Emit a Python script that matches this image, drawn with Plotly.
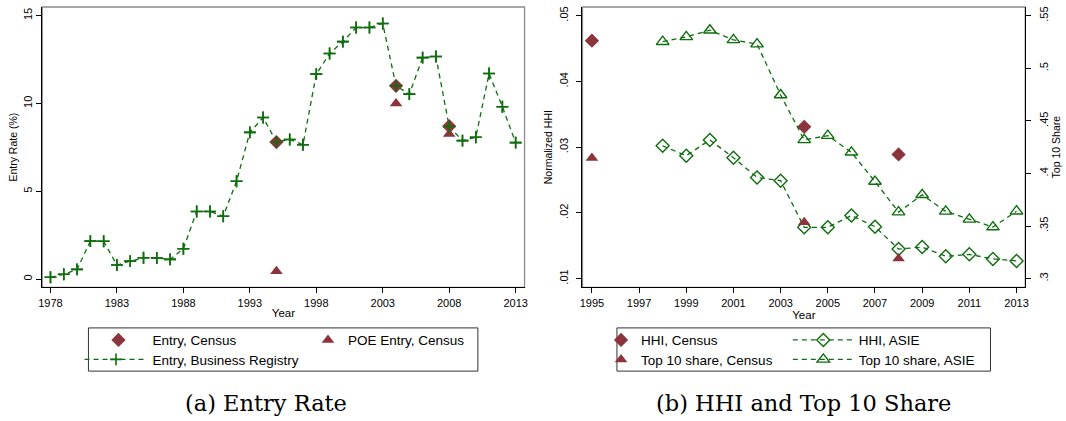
import plotly.graph_objects as go

# ---------------- data ----------------
years_br = list(range(1978, 2014))
entry_br = [0.1, 0.27, 0.55, 2.16, 2.15, 0.8, 1.02, 1.21, 1.2, 1.12, 1.73, 3.85, 3.85, 3.58,
            5.57, 8.35, 9.2, 7.8, 7.95, 7.65, 11.67, 12.84, 13.52, 14.32, 14.32, 14.55,
            11.0, 10.53, 12.61, 12.67, 8.68, 7.88, 8.07, 11.7, 9.81, 7.77]
census_years = [1995, 2004, 2008]
entry_census = [7.8, 11.0, 8.7]
poe_entry_census = [0.45, 10.0, 8.26]

asie_years = list(range(1998, 2014))
hhi_asie = [0.0302, 0.0287, 0.0311, 0.0284, 0.0254, 0.0249, 0.0178, 0.0178, 0.0196,
            0.0179, 0.0145, 0.0148, 0.0134, 0.0137, 0.0130, 0.0127]
top10_asie = [0.5253, 0.5299, 0.5362, 0.5270, 0.5230, 0.4746, 0.4319, 0.4360, 0.4201,
              0.3923, 0.3632, 0.3797, 0.3639, 0.3563, 0.3490, 0.3641]
census_years_b = [1995, 2004, 2008]
hhi_census = [0.0462, 0.0331, 0.0289]
top10_census = [0.4146, 0.3537, 0.3190]

left_xticks = [1978, 1983, 1988, 1993, 1998, 2003, 2008, 2013]
left_yticks = [0, 5, 10, 15]
right_xticks = list(range(1995, 2014, 2))
hhi_ticks = [0.01, 0.02, 0.03, 0.04, 0.05]
hhi_ticklabels = [".01", ".02", ".03", ".04", ".05"]
top10_ticks = [0.3, 0.35, 0.4, 0.45, 0.5, 0.55]
top10_ticklabels = [".3", ".35", ".4", ".45", ".5", ".55"]

# ---------------- style ----------------
W, H = 1066, 421
MAROON = "#8c343c"
GREEN = "#0e6e0e"
FONT = "Liberation Sans, Arial, sans-serif"
DASH = "5px,4px"

def px(x):
    return x / W

def py(y):
    return 1 - y / H

fig = go.Figure()

cross_marker = dict(symbol="cross-thin", size=8.5, line=dict(color=GREEN, width=1.6))

# ---- left panel ----
fig.add_trace(go.Scatter(x=years_br, y=entry_br, mode="lines+markers",
                         name="Entry, Business Registry",
                         line=dict(color=GREEN, width=1.3, dash=DASH),
                         marker=cross_marker,
                         xaxis="x", yaxis="y", legend="legend3"))
fig.add_trace(go.Scatter(x=census_years, y=entry_census, mode="markers", name="Entry, Census",
                         marker=dict(symbol="diamond", size=11, color=MAROON),
                         xaxis="x", yaxis="y", legend="legend"))
fig.add_trace(go.Scatter(x=census_years, y=poe_entry_census, mode="markers", name="POE Entry, Census",
                         marker=dict(symbol="triangle-up", size=11, color=MAROON),
                         xaxis="x", yaxis="y", legend="legend2"))
# redraw crosses on top of census diamonds
fig.add_trace(go.Scatter(x=years_br, y=entry_br, mode="markers", showlegend=False,
                         marker=cross_marker, xaxis="x", yaxis="y", hoverinfo="skip"))

# ---- right panel ----
fig.add_trace(go.Scatter(x=census_years_b, y=hhi_census, mode="markers", name="HHI, Census",
                         marker=dict(symbol="diamond", size=11, color=MAROON),
                         xaxis="x2", yaxis="y3", legend="legend4"))
fig.add_trace(go.Scatter(x=census_years_b, y=top10_census, mode="markers", name="Top 10 share, Census",
                         marker=dict(symbol="triangle-up", size=11, color=MAROON),
                         xaxis="x2", yaxis="y4", legend="legend5"))
fig.add_trace(go.Scatter(x=asie_years, y=hhi_asie, mode="lines+markers", name="HHI, ASIE",
                         line=dict(color=GREEN, width=1.3, dash=DASH),
                         marker=dict(symbol="diamond-open", size=10, color=GREEN, line=dict(width=1.4)),
                         xaxis="x2", yaxis="y3", legend="legend6"))
fig.add_trace(go.Scatter(x=asie_years, y=top10_asie, mode="lines+markers", name="Top 10 share, ASIE",
                         line=dict(color=GREEN, width=1.3, dash=DASH),
                         marker=dict(symbol="triangle-up-open", size=11, color=GREEN, line=dict(width=1.4)),
                         xaxis="x2", yaxis="y4", legend="legend7"))

axis_common = dict(showgrid=False, zeroline=False, showline=True, linecolor="black", linewidth=1.3,
                   ticks="outside", ticklen=5, tickcolor="black", tickwidth=1.2,
                   tickfont=dict(family=FONT, size=11, color="black"))

ytop, ybot = 6, 287
ydom = [py(ybot), py(ytop)]

fig.update_layout(
    width=W, height=H, margin=dict(l=0, r=0, t=0, b=0),
    paper_bgcolor="white", plot_bgcolor="white", showlegend=True,
    font=dict(family=FONT, color="black"),
    xaxis=dict(domain=[px(38.5), px(524)], range=[1977.38, 2013.67], tickvals=left_xticks,
               anchor="y", title=dict(text="Year", font=dict(size=11.5), standoff=1), **axis_common),
    yaxis=dict(domain=ydom, range=[-0.47, 15.49], tickvals=left_yticks, tickangle=-90,
               ticklabelstandoff=0,
               anchor="x", title=dict(text="Entry Rate (%)", font=dict(size=10.5), standoff=2), **axis_common),
    xaxis2=dict(domain=[px(582.3), px(1028)], range=[1994.6, 2013.37], tickvals=right_xticks,
                anchor="y3", title=dict(text="Year", font=dict(size=11.5), standoff=1), **axis_common),
    yaxis3=dict(domain=ydom, range=[0.00868, 0.05132], tickvals=hhi_ticks, ticktext=hhi_ticklabels,
                tickangle=-90, anchor="x2", ticklabelstandoff=4,
                title=dict(text="Normalized HHI", font=dict(size=10.5), standoff=3), **axis_common),
    yaxis4=dict(range=[0.2917, 0.5583], tickvals=top10_ticks, ticktext=top10_ticklabels,
                tickangle=-90, overlaying="y3", side="right", anchor="x2", ticklabelstandoff=3,
                title=dict(text="Top 10 Share", font=dict(size=10.5), standoff=4), **axis_common),
)

# plot region outlines (grey top/right)
for xr, yr in [("x domain", "y domain"), ("x2 domain", "y3 domain")]:
    fig.add_shape(type="rect", xref=xr, yref=yr, x0=0, x1=1, y0=0, y1=1,
                  line=dict(color="#8a8a8a", width=1.3), layer="below")

# legend boxes
fig.add_shape(type="rect", xref="paper", yref="paper", x0=px(85), x1=px(477), y0=py(371), y1=py(327.7),
              line=dict(color="#333", width=1))
fig.add_shape(type="rect", xref="paper", yref="paper", x0=px(617), x1=px(993), y0=py(371), y1=py(327.7),
              line=dict(color="#333", width=1))

leg_font = dict(family=FONT, size=13.5, color="black")

def leg(xp, yp, iw=30):
    return dict(x=px(xp), y=py(yp), xanchor="left", yanchor="middle", bgcolor="rgba(0,0,0,0)",
                borderwidth=0, font=leg_font, itemwidth=iw, itemclick=False, itemdoubleclick=False)

fig.update_layout(
    legend=leg(81, 340, 58),
    legend2=leg(306, 340, 30),
    legend3=leg(76, 359.5, 63),
    legend4=leg(601, 340, 30),
    legend5=leg(601, 359.5, 30),
    legend6=leg(789, 340, 61),
    legend7=leg(789, 359.5, 61),
)

# captions
CAP_FONT = dict(family="DejaVu Serif, Liberation Serif, serif", size=22.5, color="black")
fig.add_annotation(text="(a) Entry Rate", xref="paper", yref="paper", x=px(264), y=py(403),
                   xanchor="center", yanchor="middle", showarrow=False, font=CAP_FONT)
fig.add_annotation(text="(b) HHI and Top 10 Share", xref="paper", yref="paper", x=px(805), y=py(403),
                   xanchor="center", yanchor="middle", showarrow=False, font=CAP_FONT)

fig.write_html("out.html")
